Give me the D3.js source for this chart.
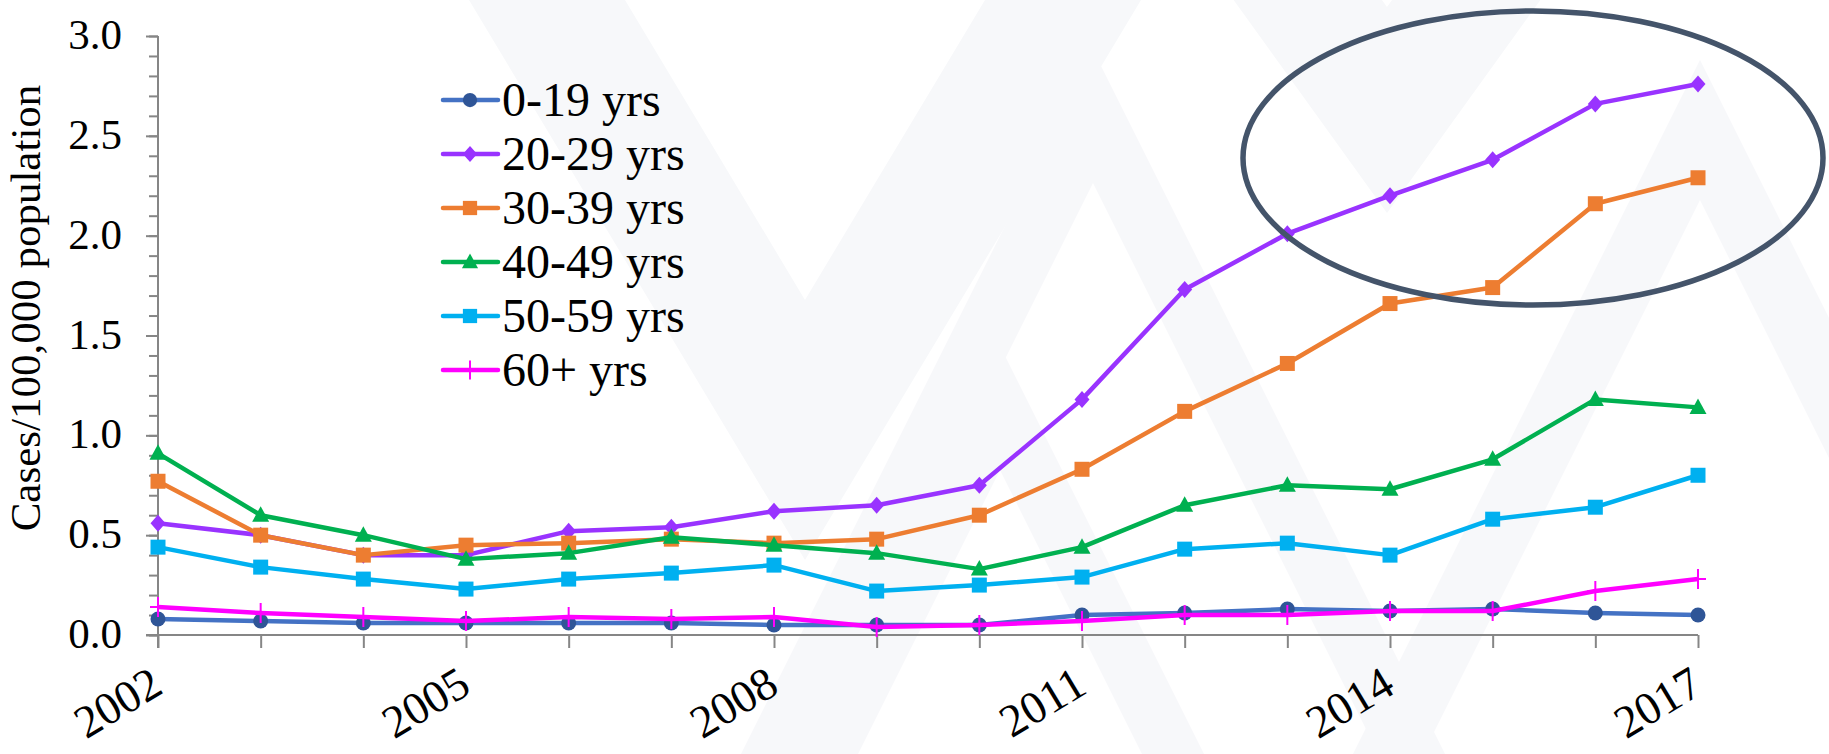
<!DOCTYPE html>
<html>
<head>
<meta charset="utf-8">
<script src="https://cdn.jsdelivr.net/npm/d3@7"></script>
<style>
  html, body { margin: 0; padding: 0; background: #ffffff; }
  svg { display: block; }
  text { font-family: "Liberation Serif", "Times New Roman", serif; fill: #000; }
</style>
</head>
<body>
<svg id="chart" width="1829" height="754"></svg>
<script>
// Incidence by age group, cases per 100,000 population
const years = [2002, 2003, 2004, 2005, 2006, 2007, 2008, 2009, 2010, 2011, 2012, 2013, 2014, 2015, 2016, 2017];
const age0to19  = [0.08, 0.07, 0.06, 0.06, 0.06, 0.06, 0.05, 0.05, 0.05, 0.10, 0.11, 0.13, 0.12, 0.13, 0.11, 0.10];
const age20to29 = [0.56, 0.50, 0.40, 0.40, 0.52, 0.54, 0.62, 0.65, 0.75, 1.18, 1.73, 2.01, 2.20, 2.38, 2.66, 2.76];
const age30to39 = [0.77, 0.50, 0.40, 0.45, 0.46, 0.48, 0.46, 0.48, 0.60, 0.83, 1.12, 1.36, 1.66, 1.74, 2.16, 2.29];
const age40to49 = [0.91, 0.60, 0.50, 0.38, 0.41, 0.49, 0.45, 0.41, 0.33, 0.44, 0.65, 0.75, 0.73, 0.88, 1.18, 1.14];
const age50to59 = [0.44, 0.34, 0.28, 0.23, 0.28, 0.31, 0.35, 0.22, 0.25, 0.29, 0.43, 0.46, 0.40, 0.58, 0.64, 0.80];
const age60plus = [0.14, 0.11, 0.09, 0.07, 0.09, 0.08, 0.09, 0.04, 0.05, 0.07, 0.10, 0.10, 0.12, 0.12, 0.22, 0.28];

const seriesNames = ["0-19 yrs", "20-29 yrs", "30-39 yrs", "40-49 yrs", "50-59 yrs", "60+ yrs"];
const yTickValues = [0, 0.5, 1.0, 1.5, 2.0, 2.5, 3.0];
const xTickLabels = [2002, 2005, 2008, 2011, 2014, 2017];
const yAxisTitle = "Cases/100,000 population";

const seriesValues = [age0to19, age20to29, age30to39, age40to49, age50to59, age60plus];
const styles = [
  { line: "#4472C4", marker: "#2F5597", shape: "circle" },
  { line: "#9933FF", marker: "#9933FF", shape: "diamond" },
  { line: "#ED7D31", marker: "#ED7D31", shape: "square" },
  { line: "#00B050", marker: "#00B050", shape: "triangle" },
  { line: "#00B0F0", marker: "#00B0F0", shape: "square" },
  { line: "#FF00FF", marker: "#FF00FF", shape: "plus" }
];

const svg = d3.select("#chart");
const W = 1829, H = 754;

// faint chevron watermark behind the chart
const wm = svg.append("g").attr("fill", "#f7f8fa");
function chevronDown(cx, innerY, outerY, k) {
  const top = -10;
  return [[cx - k * (outerY - top), top], [cx - k * (innerY - top), top], [cx, innerY],
          [cx + k * (innerY - top), top], [cx + k * (outerY - top), top], [cx, outerY]];
}
function chevronUp(cx, outerY, innerY, k) {
  const bot = H + 10;
  return [[cx, outerY], [cx + k * (bot - outerY), bot], [cx + k * (bot - innerY), bot], [cx, innerY],
          [cx - k * (bot - innerY), bot], [cx - k * (bot - outerY), bot]];
}
[
  chevronDown(805, 300, 560, 0.6),
  chevronDown(1387, 7, 213, 0.72),
  chevronUp(1093, 50, 183, 0.5),
  chevronUp(1000, 346, 470, 0.5),
  chevronUp(1700, 60, 200, 0.5)
].forEach(p => wm.append("path").attr("d", d3.line()(p) + "Z"));

// scales
const x = d3.scaleLinear().domain([2002, 2017]).range([158, 1698]);
const y = d3.scaleLinear().domain([0, 3]).range([635, 36]);

// y axis: minor ticks every 0.1, major every 0.5
const axisColor = "#868686";
const gy = svg.append("g").attr("transform", "translate(158,0)")
  .call(d3.axisLeft(y).tickValues(d3.range(0, 3.0001, 0.1)).tickSize(9).tickFormat(""));
gy.select(".domain").remove();
gy.selectAll(".tick line").attr("stroke", axisColor).attr("stroke-width", 2);
svg.append("g").attr("transform", "translate(158,0)")
  .call(d3.axisLeft(y).tickValues(yTickValues).tickSize(12).tickFormat(""))
  .call(g => g.select(".domain").remove())
  .selectAll(".tick line").attr("stroke", axisColor).attr("stroke-width", 2);
svg.append("line").attr("x1", 158).attr("x2", 158).attr("y1", y(3)).attr("y2", y(0) + 13)
  .attr("stroke", axisColor).attr("stroke-width", 2);

svg.append("g").selectAll("text").data(yTickValues).join("text")
  .attr("x", 122).attr("y", d => y(d) + 13)
  .attr("text-anchor", "end").attr("font-size", 43)
  .text(d => d3.format(".1f")(d));

// x axis
const gx = svg.append("g").attr("transform", `translate(0,${y(0)})`)
  .call(d3.axisBottom(x).tickValues(years).tickSize(13).tickFormat(""));
gx.select(".domain").remove();
gx.selectAll(".tick line").attr("stroke", axisColor).attr("stroke-width", 2);
svg.append("line").attr("x1", 146).attr("x2", x(2017)).attr("y1", y(0)).attr("y2", y(0))
  .attr("stroke", axisColor).attr("stroke-width", 2);

svg.append("g").selectAll("text").data(xTickLabels).join("text")
  .attr("transform", d => `translate(${x(d) + 7},692) rotate(-31)`)
  .attr("text-anchor", "end").attr("font-size", 46)
  .text(d => d);

// y axis title
svg.append("text")
  .attr("transform", "translate(40,308) rotate(-90)")
  .attr("text-anchor", "middle").attr("font-size", 43)
  .text(yAxisTitle);

// marker shapes
function marker(shape, s) {
  const p = d3.path();
  if (shape === "circle") { p.moveTo(7.5 * s, 0); p.arc(0, 0, 7.5 * s, 0, 2 * Math.PI); }
  else if (shape === "diamond") { p.moveTo(0, -8.5 * s); p.lineTo(7.5 * s, 0); p.lineTo(0, 8.5 * s); p.lineTo(-7.5 * s, 0); p.closePath(); }
  else if (shape === "square") { p.rect(-7.5 * s, -7.5 * s, 15 * s, 15 * s); }
  else if (shape === "triangle") { p.moveTo(0, -9 * s); p.lineTo(8.5 * s, 6.5 * s); p.lineTo(-8.5 * s, 6.5 * s); p.closePath(); }
  else if (shape === "plus") { p.moveTo(0, -10 * s); p.lineTo(0, 10 * s); p.moveTo(-8 * s, 0); p.lineTo(8 * s, 0); }
  return p.toString();
}
function drawMarker(g, st, s) {
  const path = g.append("path").attr("d", marker(st.shape, s));
  if (st.shape === "plus") path.attr("fill", "none").attr("stroke", st.marker).attr("stroke-width", 2);
  else path.attr("fill", st.marker);
}

// series lines with markers, later series on top
const line = d3.line().x((d, i) => x(years[i])).y(d => y(d));
seriesValues.forEach((vals, k) => {
  const st = styles[k];
  const g = svg.append("g");
  g.append("path").attr("d", line(vals)).attr("fill", "none")
    .attr("stroke", st.line).attr("stroke-width", 4.5).attr("stroke-linejoin", "round");
  vals.forEach((v, i) => {
    const m = g.append("g").attr("transform", `translate(${x(years[i])},${y(v)})`);
    drawMarker(m, st, 1);
  });
});

// legend
const legend = svg.append("g");
seriesNames.forEach((name, k) => {
  const st = styles[k];
  const ly = 100 + k * 54;
  legend.append("line").attr("x1", 443).attr("x2", 498).attr("y1", ly).attr("y2", ly)
    .attr("stroke", st.line).attr("stroke-width", 4.5).attr("stroke-linecap", "round");
  const m = legend.append("g").attr("transform", `translate(470,${ly})`);
  drawMarker(m, st, 0.95);
  legend.append("text").attr("x", 502).attr("y", ly + 16).attr("font-size", 48).text(name);
});

// highlight ellipse around the recent rise
svg.append("ellipse")
  .attr("cx", 1533).attr("cy", 158).attr("rx", 290).attr("ry", 147)
  .attr("fill", "none").attr("stroke", "#44546A").attr("stroke-width", 5.5);
</script>
</body>
</html>
